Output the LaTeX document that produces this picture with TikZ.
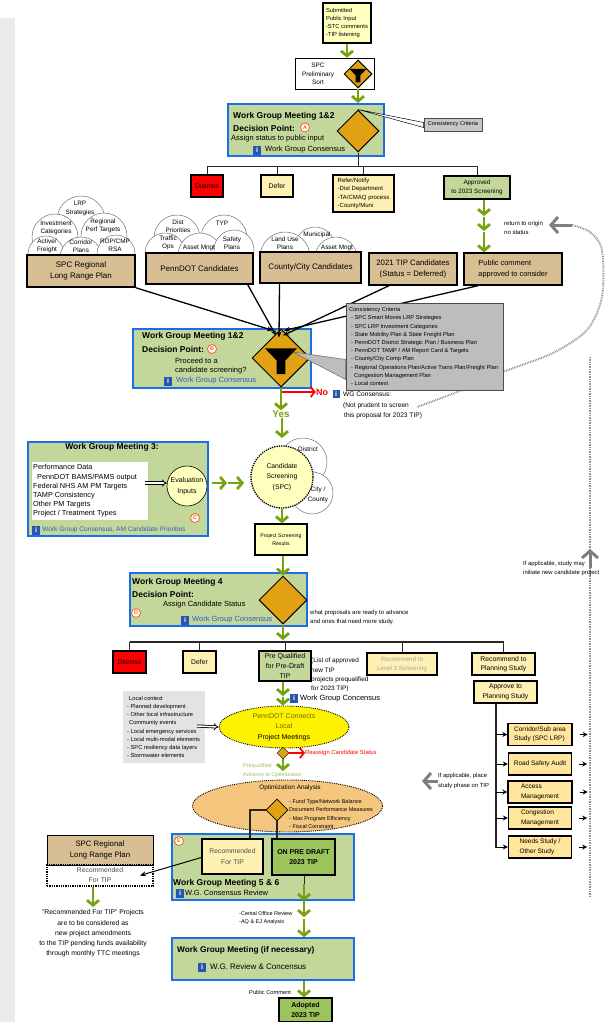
\documentclass[tikz,border=0pt]{standalone}
\usepackage{fontspec}
\setmainfont{Liberation Sans}
\usetikzlibrary{arrows.meta,shapes.geometric}
\definecolor{wggreen}{HTML}{C4D79B}
\definecolor{wgblue}{HTML}{1A6FE8}
\definecolor{amber}{HTML}{E0A212}
\definecolor{tanfill}{HTML}{D8BF93}
\definecolor{paleyellow}{HTML}{FFF0B4}
\definecolor{lightyellow}{HTML}{FFFFBE}
\definecolor{studyyellow}{HTML}{FFE69C}
\definecolor{draftgreen}{HTML}{9CC45C}
\definecolor{arrowgreen}{HTML}{77A30F}
\definecolor{arrowgray}{HTML}{7F7F7F}
\definecolor{calloutgray}{HTML}{BDBDBD}
\definecolor{lettermark}{HTML}{F0641E}
\definecolor{linkblue}{HTML}{2A5FC4}
\definecolor{optimfill}{HTML}{F5C77E}
\definecolor{olivetxt}{HTML}{6E6E00}
\tikzset{
  wgbox/.style={draw=wgblue,line width=1.6pt,fill=wggreen,inner sep=0pt},
  statusbox/.style={draw=black,line width=1.4pt,inner sep=0pt,align=center,font=\fontsize{6.8}{9.5}\selectfont},
  tanbox/.style={statusbox,fill=tanfill,font=\fontsize{8}{10.5}\selectfont},
  studybox/.style={statusbox,fill=studyyellow,minimum width=63,minimum height=22,align=left,font=\fontsize{6.8}{9.6}\selectfont},
  txt/.style={inner sep=0pt,anchor=west,align=left,font=\fontsize{7.5}{9}\selectfont},
  ctxt/.style={inner sep=0pt,align=center,font=\fontsize{6.4}{8.3}\selectfont},
  smalltxt/.style={inner sep=0pt,anchor=west,align=left,font=\fontsize{5.7}{8.2}\selectfont},
  headtxt/.style={inner sep=0pt,anchor=west,font=\fontsize{8.5}{10}\bfseries\selectfont},
  infoicon/.style={fill=linkblue!90!black,text=white,inner sep=0pt,minimum width=8,minimum height=9,font=\fontsize{7}{7}\bfseries\selectfont},
  letter/.style={circle,draw=lettermark,line width=.8pt,fill=white,text=lettermark,inner sep=0pt,minimum size=9,font=\fontsize{5.5}{5.5}\bfseries\selectfont},
  decision/.style={diamond,aspect=1,draw=black,line width=1pt,fill=amber,inner sep=0pt},
  cloudpuff/.style={draw=black!55,line width=.5pt,fill=white},
  bus/.style={draw=black!85,line width=.9pt},
  greenarr/.style={draw=arrowgreen,line width=2.8pt,-{Straight Barb[length=5pt,width=12pt,line width=2.8pt]}},
  blackarr/.style={draw=black,line width=1.3pt,-{Stealth[length=6pt,width=5pt]}},
  redarr/.style={draw=red,line width=1.8pt,-{Straight Barb[length=4pt,width=10pt,line width=1.8pt]}},
  grayarr/.style={draw=arrowgray,line width=3pt,-{Straight Barb[length=7pt,width=16pt,line width=3pt]}},
  dblarr/.style={draw=black,double,double distance=1.5pt,line width=.8pt,-{Implies}},
  dotgray/.style={draw=arrowgray!85,line width=2pt,dash pattern=on .8pt off .9pt},
  smallarr/.style={draw=black,line width=.9pt,-{Stealth[length=5pt,width=5pt]}},
  funnel/.pic={\fill[black] (-1,-.6) -- (1,-.6) -- (.28,.15) -- (.28,1) -- (-.28,1) -- (-.28,.15) -- cycle;}
}
\begin{document}
\begin{tikzpicture}[x=1pt,y=-1pt]
  \useasboundingbox (0,0) rectangle (607,1022);
  \fill[black!8] (0,18) rectangle (15,1022);

  \node[statusbox,fill=lightyellow,minimum width=48,minimum height=40,align=left,font=\fontsize{5.8}{7.9}\selectfont] (submitted) at (347,23) {Submitted\\Public Input\\-STC comments\\-TIP listening};
  \node[draw=black,line width=.6pt,fill=white,minimum width=79,minimum height=31,inner sep=0pt] (sort) at (334.5,73.5) {};
  \node[ctxt] (sorttxt) at (318,74) {SPC\\Preliminary\\Sort};
  \node[decision,minimum size=28] (sortdiamond) at (358,74) {};
  \pic[scale=8.5] at (358,74) {funnel};
  \draw[greenarr] (submitted.south) -- (sort.north -| submitted.south);
  \draw[greenarr] (sort.south -| sortdiamond) -- ([yshift=1]sortdiamond |- 0,104);

  \node[wgbox,minimum width=156,minimum height=52] (wga) at (306,130) {};
  \node[draw=black!70,line width=.7pt,fill=black!22,minimum width=58,minimum height=13,inner sep=0pt,font=\fontsize{5.6}{6}\selectfont] (crit) at (453,124.5) {Consistency Criteria};
  \node[decision,minimum size=42] (wgadiamond) at (358,131) {};
  \draw[fill=white,line width=.5pt] (wgadiamond.north) -- ([yshift=2]crit.west) -- ([yshift=-3]crit.west) -- cycle;
  \node[headtxt] (wgahead) at (233,116) {Work Group Meeting 1\&2};
  \node[headtxt] (wgapoint) at (233,128) {Decision Point:};
  \node[letter] (lettera) at (305,127.5) {A};
  \node[txt] (wgatxt) at (231,139) {Assign status to public input};
  \node[infoicon] (infoa) at (257,150) {i};
  \node[txt] (wgacons) at (265,150) {Work Group Consensus};

  \coordinate (busa) at (358,166);
  \node[statusbox,fill=red,minimum width=32,minimum height=22] (dismissa) at (207,186) {Dismiss};
  \node[statusbox,fill=paleyellow,minimum width=32,minimum height=22] (defera) at (277,186) {Defer};
  \node[statusbox,fill=paleyellow,minimum width=61,minimum height=37,align=left,font=\fontsize{6}{8.3}\selectfont] (refer) at (363.5,193.5) {Refer/Notify\\-Dist Department\\-TA/CMAQ process\\-County/Muni};
  \node[statusbox,fill=wggreen,minimum width=66,minimum height=23,font=\fontsize{6.3}{9.2}\selectfont] (approved) at (477,187.5) {Approved\\to 2023 Screening};
  \draw[bus] (wgadiamond.south) -- (busa);
  \draw[bus] (dismissa.north |- busa) -- (approved.north |- busa);
  \foreach \b in {dismissa,defera,refer,approved}
    \draw[bus] (\b.north |- busa) -- (\b.north);

  \foreach \x/\y/\r in {81/220/24,55/237/23,104/236/23,46/254/18,81/258/21,116/254/19,
    177/238/23,224/238/23,165/253/20,200/255/22,234/250/20,
    315/247/20,285/257/25,336/258/21}
    \draw[cloudpuff] (\x,\y) circle (\r);
  \foreach \n/\x/\y/\t in {lrp/80/208.5/{LRP\\Strategies},invest/56/228/{Investment\\Categories},perf/103/225.5/{Regional\\Perf Targets},
    freight/47/246/{Active/\\Freight},corridor/81/246/{Corridor\\Plans},rop/115/245/{ROP/CMP\\RSA},
    distpri/178/226/{Dist\\Priorities},typ/222/223/{TYP},traffic/168/243/{Traffic\\Ops},assetp/199/248/{Asset Mngt},safety/232/243/{Safety\\Plans},
    landuse/285/243.5/{Land Use\\Plans},muni/317/235/{Municipal},assetc/337/248/{Asset Mngt}}
    \node[ctxt] (\n) at (\x,\y) {\t};

  \node[tanbox,minimum width=108,minimum height=32] (spc) at (81,271) {SPC Regional\\Long Range Plan};
  \node[tanbox,minimum width=107,minimum height=31] (penndot) at (199.5,268.5) {PennDOT Candidates};
  \node[tanbox,minimum width=101,minimum height=31] (county) at (310.5,267.5) {County/City Candidates};
  \node[tanbox,minimum width=88,minimum height=32,font=\fontsize{7.8}{10.5}\selectfont] (tipcand) at (413,269) {2021 TIP Candidates\\(Status = Deferred)};
  \node[tanbox,minimum width=98,minimum height=32,align=left,font=\fontsize{7.4}{10.5}\selectfont] (public) at (513,269) {Public comment\\approved to consider};

  \coordinate (apone) at (484,217);
  \coordinate (aptwo) at (484,232);
  \draw[greenarr] (apone |- approved.south) -- ([yshift=1]apone);
  \draw[greenarr] (apone) -- ([yshift=1]aptwo);
  \draw[greenarr] (aptwo) -- (aptwo |- public.north);

  \node[smalltxt,font=\fontsize{6}{9}\selectfont] (returntxt) at (504,228) {return to origin\\no status};
  \coordinate (returnfrom) at (572,225);
  \coordinate (returnto) at (549,225);
  \coordinate (notprudent) at (417,407);
  \draw[dotgray] plot[smooth] coordinates {(returnfrom) (590,232) (602,250) (602,297) (587,330) (553,353) (503,372) (457,392) (notprudent)};
  \draw[grayarr] (returnfrom) -- (returnto);
  \coordinate (dottop) at (590,357);
  \coordinate (dotbottom) at (590,896);
  \coordinate (uparrow) at (590,549);
  \draw[dotgray] (dottop) -- (dotbottom);
  \draw[grayarr] (590,568) -- (uparrow);

  \node[wgbox,minimum width=178,minimum height=59] (wgb) at (222,358.5) {};
  \node[decision,minimum size=58] (wgbdiamond) at (281,358) {};
  \pic[scale=16] at (281,358) {funnel};
  \node[headtxt] (wgbhead) at (142,336) {Work Group Meeting 1\&2};
  \node[headtxt] (wgbpoint) at (142,349) {Decision Point:};
  \node[letter] (letterb) at (212,349) {B};
  \node[txt] (wgbtxt) at (175,366) {Proceed to a\\candidate screening?};
  \node[infoicon] (infob) at (168,381) {i};
  \node[txt,text=linkblue] (wgbcons) at (176,381) {Work Group Consensus};

  \draw[blackarr] (spc.south east) -- ([shift={(-8,2)}]wgbdiamond.north);
  \draw[blackarr] ([xshift=-6]penndot.south east) -- ([shift={(-5,7)}]wgbdiamond.north);
  \draw[blackarr] ([xshift=-31]county.south) -- ([shift={(-2,9)}]wgbdiamond.north);
  \draw[blackarr] ([xshift=-24]tipcand.south) -- ([shift={(2,7)}]wgbdiamond.north);
  \draw[blackarr] ([xshift=-35]public.south) -- ([shift={(3,2)}]wgbdiamond.north);

  \node[draw=black!70,line width=.7pt,fill=calloutgray,minimum width=157,minimum height=87,inner sep=0pt] (callout) at (424.5,346.5) {};
  \draw[draw=black!60,fill=calloutgray,line width=.5pt] (293,352) -- ([yshift=-13]callout.west) -- ([yshift=-33]callout.west) -- cycle;
  \node[smalltxt,font=\fontsize{5.7}{8.2}\selectfont] (crittxt) at (349,346.5) {Consistency Criteria\\
    \hspace{2pt}- SPC Smart Moves LRP Strategies\\
    \hspace{2pt}- SPC LRP Investment Categories\\
    \hspace{2pt}- State Mobility Plan \& State Freight Plan\\
    \hspace{2pt}- PennDOT District Strategic Plan / Business Plan\\
    \hspace{2pt}- PennDOT TAMP / AM Report Card \& Targets\\
    \hspace{2pt}- County/City Comp Plan\\
    \hspace{2pt}- Regional Operations Plan/Active Trans Plan/Freight Plan\\
    \hspace{5pt}Congestion Management Plan\\
    \hspace{2pt}- Local context};

  \node[inner sep=0pt,text=red,font=\fontsize{9}{10}\bfseries\selectfont] (notext) at (322,392) {No};
  \node[infoicon,minimum width=7,minimum height=8] (infono) at (336,394) {i};
  \node[smalltxt,font=\fontsize{6.6}{10.3}\selectfont] (notxt) at (343,405.5) {WG Consensus:\\(Not prudent to screen\\\hspace{1pt}this proposal for 2023 TIP)};
  \draw[redarr] (wgbdiamond.south |- notext) -- (notext.west);
  \node[inner sep=0pt,text=arrowgreen,font=\fontsize{10}{11}\bfseries\selectfont] (yestxt) at (281,414) {Yes};
  \draw[greenarr] (wgbdiamond.south) -- (yestxt.north);

  \node[wgbox,minimum width=180,minimum height=94] (wgc) at (118,489) {};
  \node[inner sep=0pt,font=\fontsize{8.5}{10}\bfseries\selectfont] (wgchead) at (112,447) {Work Group Meeting 3:};
  \node[fill=white,minimum width=116,minimum height=58,inner sep=0pt] (inputs) at (90,491) {};
  \node[txt,font=\fontsize{7.3}{9.2}\selectfont] (inputstxt) at (33,491) {Performance Data\\\hspace{4pt}PennDOT BAMS/PAMS output\\Federal NHS AM PM Targets\\TAMP Consistency\\Other PM Targets\\Project / Treatment Types};
  \node[circle,draw=black,line width=.6pt,fill=lightyellow,minimum size=40,inner sep=0pt,align=center,font=\fontsize{7}{10.5}\selectfont] (evalinputs) at (187,486) {Evaluation\\Inputs};
  \draw[dblarr] ([shift={(-3,-8)}]inputs.east) -- (evalinputs.west |- 0,483);
  \node[letter] (letterc) at (195,518) {C};
  \node[infoicon] (infoc) at (36,530) {i};
  \node[txt,text=linkblue,font=\fontsize{6.6}{8}\selectfont] (wgccons) at (42,530) {Work Group Consensus, AM Candidate Priorities};

  \node[circle,cloudpuff,minimum size=48,inner sep=0pt] (district) at (303,462) {};
  \node[circle,cloudpuff,minimum size=42,inner sep=0pt] (citycounty) at (312,493) {};
  \node[ctxt] (districttxt) at (308,449) {District};
  \node[ctxt,font=\fontsize{6.4}{9.5}\selectfont] (citytxt) at (318,495) {City /\\County};
  \node[circle,draw=black,densely dotted,line width=1.3pt,fill=lightyellow,minimum size=62,inner sep=0pt,align=center,font=\fontsize{6.8}{10.5}\selectfont] (candidate) at (282,477) {Candidate\\Screening\\(SPC)};
  \coordinate (yesend) at (282,438);
  \draw[greenarr] (yesend |- yestxt.south) -- (yesend);
  \coordinate (evalout) at (212,483);
  \coordinate (evalmid) at (228,483);
  \coordinate (evalend) at (244,483);
  \draw[greenarr] (evalout) -- ([xshift=-1]evalmid);
  \draw[greenarr] (evalmid) -- (evalend);

  \node[statusbox,fill=lightyellow,minimum width=52,minimum height=31,font=\fontsize{5.2}{8.5}\selectfont] (results) at (281,539.5) {Project Screening\\Results};
  \draw[greenarr] (candidate.south) -- (results.north -| candidate.south);

  \node[wgbox,minimum width=177,minimum height=53] (wgd) at (218.5,599.5) {};
  \node[decision,minimum size=48] (wgddiamond) at (283,600) {};
  \draw[greenarr] (results.south -| wgddiamond) -- (wgddiamond.north);
  \node[headtxt] (wgdhead) at (132,582) {Work Group Meeting 4};
  \node[headtxt] (wgdpoint) at (132,594.5) {Decision Point:};
  \node[txt] (wgdtxt) at (163,605) {Assign Candidate Status};
  \node[letter] (letterd) at (136,613) {D};
  \node[infoicon] (infod) at (185,620) {i};
  \node[txt,text=linkblue] (wgdcons) at (192,620) {Work Group Consensus};
  \node[smalltxt,font=\fontsize{6}{9}\selectfont] (proposals) at (310,617.5) {what proposals are ready to advance\\and ones that need more study.};

  \coordinate (busb) at (283,642);
  \node[statusbox,fill=red,minimum width=33,minimum height=22] (dismissb) at (129.5,662) {Dismiss};
  \node[statusbox,fill=paleyellow,minimum width=33,minimum height=22] (deferb) at (199.5,662) {Defer};
  \node[statusbox,fill=wggreen,minimum width=52,minimum height=30,font=\fontsize{7}{9.8}\selectfont] (prequal) at (285,666) {Pre Qualified\\for Pre-Draft\\TIP};
  \node[statusbox,fill=paleyellow,text=black!35,minimum width=70,minimum height=22,font=\fontsize{6.2}{9}\selectfont] (levelthree) at (402,664) {Recommend to\\Level 3 Screening};
  \node[statusbox,fill=paleyellow,minimum width=63,minimum height=22] (planning) at (503.5,664) {Recommend to\\Planning Study};
  \node[statusbox,fill=paleyellow,minimum width=63,minimum height=22] (approve) at (505.5,692) {Approve to\\Planning Study};
  \draw[greenarr] (wgddiamond.south) -- ([yshift=2]busb);
  \draw[bus,line width=1.1pt] (dismissb.north |- busb) -- (planning.north |- busb);
  \foreach \b in {dismissb,deferb,prequal,levelthree,planning}
    \draw[bus] (\b.north |- busb) -- (\b.north);

  \node[smalltxt,font=\fontsize{6.4}{9.3}\selectfont] (listtxt) at (311,675) {(List of approved\\new TIP\\projects prequalified\\for 2023 TIP)};
  \node[infoicon] (infoprequal) at (294,698) {i};
  \node[txt] (prequalcons) at (300,699) {Work Group Concensus};

  \node[fill=black!11,minimum width=82,minimum height=72,inner sep=0pt] (localbox) at (164,727) {};
  \node[smalltxt] (localtxt) at (127,727) {\hspace{2pt}Local context\\- Planned development\\- Other local infrastructure\\\hspace{2pt}Community events\\- Local emergency services\\- Local multi-modal elements\\- SPC resiliency data layers\\- Stormwater elements};
  \node[ellipse,draw=black,densely dotted,line width=.9pt,fill=yellow,minimum width=130,minimum height=42,inner sep=0pt,align=center,font=\fontsize{7}{10.3}\selectfont] (connects) at (284,727) {\textcolor{olivetxt}{PennDOT Connects}\\\textcolor{olivetxt}{Local}\\Project Meetings};
  \draw[dblarr] (197,726) -- (connects.west);
  \coordinate (prequalmid) at (283,697);
  \draw[greenarr] (prequalmid |- prequal.south) -- ([yshift=1]prequalmid);
  \draw[greenarr] (prequalmid) -- (connects.north -| prequalmid);

  \node[decision,line width=.4pt,minimum size=12] (smalldiamond) at (283,753) {};
  \node[smalltxt,text=red,font=\fontsize{5.9}{7}\selectfont] (reassign) at (305,753) {Reassign Candidate Status};
  \draw[redarr] (smalldiamond.east) -- (reassign.west);
  \node[smalltxt,text=arrowgreen!70,font=\fontsize{5.4}{9}\selectfont] (advance) at (243,770.5) {Prequalified\\Advance to Optimization};
  \coordinate (advanceend) at (283,771);
  \draw[greenarr] (smalldiamond.south) -- (advanceend);

  \node[ellipse,draw=black,densely dotted,line width=.9pt,fill=optimfill,minimum width=190,minimum height=52,inner sep=0pt] (optim) at (287.5,806) {};
  \node[ctxt] (optimtxt) at (290,788) {Optimization Analysis};
  \node[decision,line width=.7pt,minimum size=22] (optimdiamond) at (277,810) {};
  \node[smalltxt,font=\fontsize{5.5}{8.3}\selectfont] (optimlist) at (289,814) {- Fund Type/Network Balance\\Document Performance Measures\\- Max Program Efficiency\\- Fiscal Constraint};

  \node[wgbox,minimum width=182,minimum height=66] (wge) at (263,867) {};
  \node[letter] (lettere) at (179,841) {E};
  \node[statusbox,fill=paleyellow,minimum width=61,minimum height=35,text=black!70,font=\fontsize{6.8}{10.3}\selectfont] (rectip) at (232.5,856.5) {Recommended\\For TIP};
  \node[statusbox,fill=draftgreen,minimum width=63,minimum height=36,font=\fontsize{7}{10.3}\bfseries\selectfont] (onpre) at (303.5,857) {ON PRE DRAFT\\2023 TIP};
  \draw[bus,line width=1.3pt] (optimdiamond.west) -| ([xshift=17.5]rectip.north);
  \draw[bus,line width=1.3pt] (optimdiamond.south) -- (onpre.north -| optimdiamond.south);
  \node[headtxt] (wgehead) at (173,883) {Work Group Meeting 5 \& 6};
  \node[infoicon] (infoe) at (180,893) {i};
  \node[txt] (wgecons) at (185,893) {W.G. Consensus Review};
  \coordinate (onprestem) at (304,884);
  \draw[bus,line width=1pt] (onpre.south -| onprestem) -- (onprestem);
  \draw[greenarr] (onprestem) -- (onprestem |- wge.south);

  \node[tanbox,minimum width=106,minimum height=30,line width=1pt,font=\fontsize{7.8}{10.3}\selectfont] (spctwo) at (100,850) {SPC Regional\\Long Range Plan};
  \node[draw=black,densely dotted,line width=1.3pt,minimum width=106,minimum height=21,inner sep=0pt,align=center,text=black!70,font=\fontsize{6.8}{10}\selectfont] (recdotted) at (100,875.5) {Recommended\\For TIP};
  \draw[blackarr,line width=1pt] ([yshift=-1]rectip.west) -- ([xshift=40]recdotted.center);
  \coordinate (recgreen) at (93,907);
  \draw[greenarr] (recgreen |- recdotted.south) -- (recgreen);
  \node[ctxt,font=\fontsize{6.8}{10.2}\selectfont] (rectxt) at (93,933.5) {"Recommended For TIP" Projects\\are to be considered as\\new project amendments\\to the TIP pending funds availability\\through monthly TTC meetings};

  \node[wgbox,minimum width=182,minimum height=42] (wgf) at (263,959) {};
  \node[headtxt,font=\fontsize{8.3}{10}\bfseries\selectfont] (wgfhead) at (177,950) {Work Group Meeting (if necessary)};
  \node[infoicon] (infof) at (202,967) {i};
  \node[txt,font=\fontsize{8}{10}\selectfont] (wgfcons) at (210,967) {W.G. Review \& Concensus};
  \coordinate (officemid) at (304,919);
  \draw[greenarr] (officemid |- wge.south) -- ([yshift=2]officemid);
  \draw[greenarr] (officemid) -- (officemid |- wgf.north);
  \node[smalltxt,font=\fontsize{5.5}{8}\selectfont] (officetxt) at (239,918) {-Cental Office Review\\-AQ \& EJ Analysis};

  \node[statusbox,fill=draftgreen,minimum width=53,minimum height=24,font=\fontsize{7}{10}\bfseries\selectfont] (adopted) at (305.5,1010) {Adopted\\2023 TIP};
  \draw[greenarr] (officemid |- wgf.south) -- (officemid |- adopted.north);
  \node[smalltxt] (commenttxt) at (249,992) {Public Comment};

  \draw[bus,line width=1.1pt] (approve.south -| 496,0) -- (496,848) coordinate (trunkend);
  \foreach \n/\y/\t/\w in {corridor2/734.5/{Corridor/Sub area\\Study (SPC LRP)}/64,road/764/{Road Safety Audit}/63,access/792/{Access\\Management}/64,congestion/818/{Congestion\\Management}/63,needs/847/{Needs Study /\\Other Study}/63}{
    \node[studybox,minimum width=\w,font=\fontsize{6.5}{9.6}\selectfont] (\n) at (540,\y) {\t};
    \draw[smallarr] (trunkend |- \n.west) -- (\n.west);
    \draw[smallarr] ([xshift=7]\n.east) -- ([xshift=15]\n.east);
  }
  \node[smalltxt,font=\fontsize{5.9}{9.2}\selectfont] (placetxt) at (438,781) {If applicable, place\\study phase on TIP};
  \draw[grayarr] (placetxt.west) -- ([xshift=-16]placetxt.west);
  \node[smalltxt,font=\fontsize{5.9}{9.2}\selectfont] (initiatetxt) at (523,568.5) {If applicable, study may\\initiate new candidate project};
\end{tikzpicture}
\end{document}
